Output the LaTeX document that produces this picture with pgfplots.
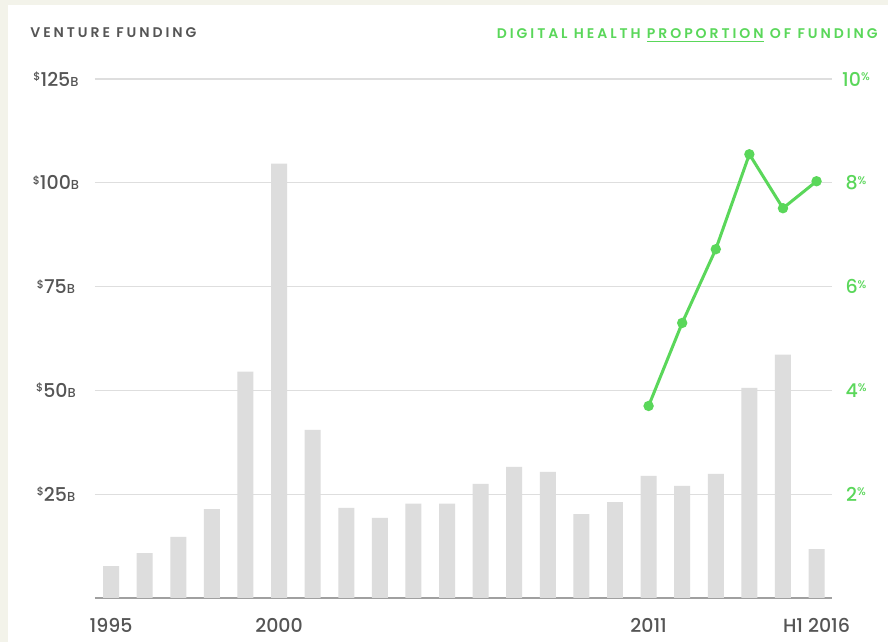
\documentclass[border=0pt]{standalone}
\usepackage{pgfplots}
\pgfplotsset{compat=1.18}
\usepackage{fontspec}
\setmainfont{Poppins}
\newfontfamily\popsemi{Poppins SemiBold}
\newfontfamily\popmed{Poppins Medium}
\definecolor{bgbeige}{RGB}{243,243,234}
\definecolor{bargray}{RGB}{221,221,221}
\definecolor{gridgray}{RGB}{222,222,222}
\definecolor{axisgray}{RGB}{160,160,160}
\definecolor{txtgray}{RGB}{85,85,85}
\definecolor{hgreen}{RGB}{90,215,90}
\newcommand{\dl}[1]{{\fontsize{5.5}{5}\selectfont\raisebox{2.8pt}{\$}}#1{\fontsize{6.5}{6}\selectfont B}}
\newcommand{\pl}[1]{#1{\fontsize{5.5}{5}\selectfont\raisebox{2.8pt}{\%}}}
\begin{document}
\begin{tikzpicture}[x=1pt,y=1pt]
\fill[bgbeige] (0,0) rectangle (444,321);
\fill[white] (4,0) rectangle (444,318.5);
\node[anchor=base west, inner sep=0, text=txtgray, font=\fontsize{7}{8}\selectfont\popsemi\addfontfeatures{LetterSpace=21}] at (15,302) {VENTURE FUNDING};
\node[anchor=base east, inner sep=0, text=hgreen, font=\fontsize{7}{8}\selectfont\popsemi\addfontfeatures{LetterSpace=21}] at (439,301.5) {DIGITAL HEALTH \underline{PROPORTION} OF FUNDING};
\begin{axis}[
  at={(47.5pt,22pt)}, anchor=south west, scale only axis,
  width=368.5pt, height=259.5pt,
  xmin=1994.52, xmax=2016.46, ymin=0, ymax=125,
  axis x line*=bottom, axis y line*=left,
  x axis line style={draw=axisgray, line width=0.8pt},
  y axis line style={draw=none},
  major tick length=0,
  ymajorgrids, grid style={gridgray, line width=0.6pt},
  ytick={25,50,75,100,125},
  yticklabels={\dl{25},\dl{50},\dl{75},\dl{100},\dl{125}},
  yticklabel style={anchor=center, xshift=-19.5pt, text=txtgray, font=\fontsize{9.5}{10}\selectfont\popmed},
  xtick={1995,2000,2011,2016},
  xticklabels={1995,2000,2011,H1 2016},
  xticklabel style={anchor=base, yshift=-17pt, text=txtgray, font=\fontsize{9.5}{10}\selectfont\popmed},
  clip=false,
]
\addplot[ybar, bar width=0.476, bar shift=0, fill=bargray, draw=none] coordinates {
(1995,7.7) (1996,10.8) (1997,14.7) (1998,21.4) (1999,54.5) (2000,104.6)
(2001,40.5) (2002,21.7) (2003,19.3) (2004,22.7) (2005,22.7) (2006,27.5)
(2007,31.6) (2008,30.4) (2009,20.2) (2010,23.1) (2011,29.4) (2012,27.0)
(2013,29.9) (2014,50.6) (2015,58.6) (2016,11.8)
};
\end{axis}
\begin{axis}[
  at={(47.5pt,22pt)}, anchor=south west, scale only axis,
  width=368.5pt, height=259.5pt,
  xmin=1994.52, xmax=2016.46, ymin=0, ymax=10,
  hide x axis, axis y line*=right,
  y axis line style={draw=none},
  major tick length=0,
  ytick={2,4,6,8,10},
  yticklabels={\pl{2},\pl{4},\pl{6},\pl{8},\pl{10}},
  yticklabel style={anchor=center, xshift=12pt, text=hgreen, font=\fontsize{9.5}{10}\selectfont\popmed},
  clip=false,
]
\addplot[hgreen, line width=1.5pt, mark=*, mark size=1.8pt, mark options={fill=hgreen, draw=hgreen}] coordinates {
(2011,3.70) (2012,5.30) (2013,6.72) (2014,8.55) (2015,7.51) (2016,8.03)
};
\end{axis}
\end{tikzpicture}
\end{document}
